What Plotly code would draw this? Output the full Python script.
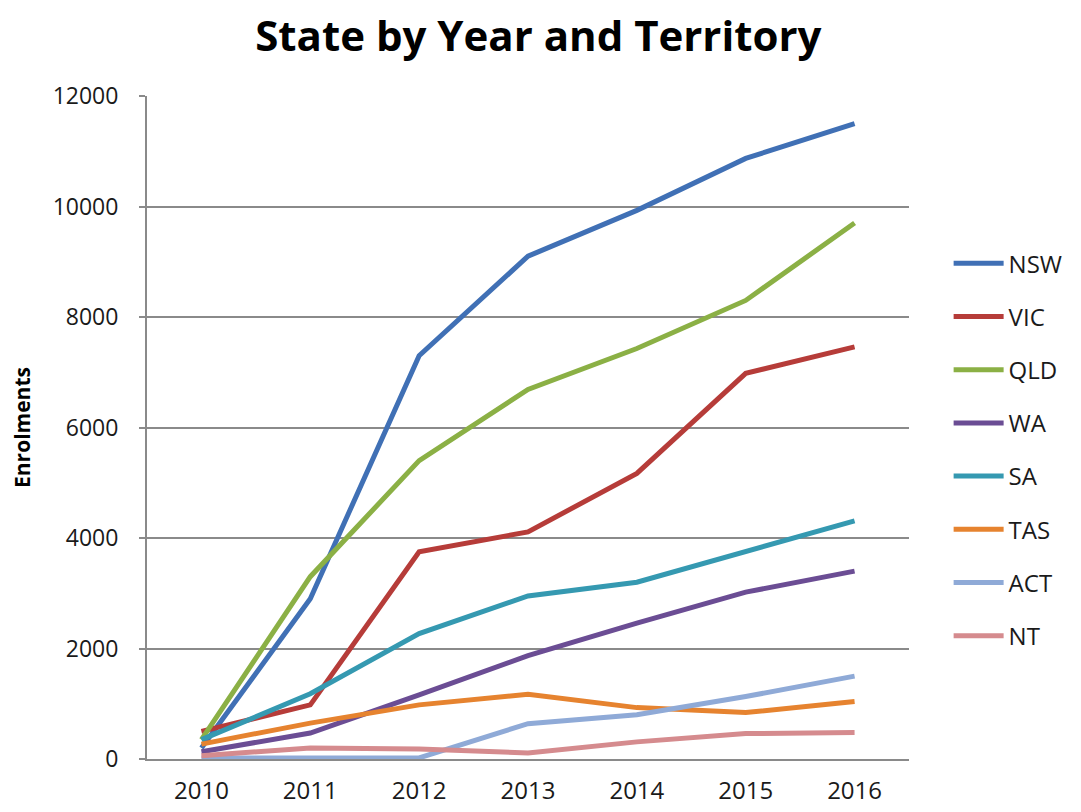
import plotly.graph_objects as go

# Enrolments by state/territory, 2010-2016
years = ["2010", "2011", "2012", "2013", "2014", "2015", "2016"]

nsw = [200, 2900, 7300, 9100, 9930, 10870, 11500]
vic = [500, 980, 3750, 4110, 5170, 6980, 7460]
qld = [350, 3300, 5400, 6690, 7430, 8300, 9700]
wa = [130, 470, 1160, 1870, 2460, 3020, 3400]
sa = [350, 1180, 2270, 2950, 3200, 3750, 4310]
tas = [270, 650, 980, 1170, 930, 840, 1040]
act = [20, 20, 20, 640, 800, 1130, 1500]
nt = [60, 200, 180, 110, 310, 460, 480]

y_ticks = [0, 2000, 4000, 6000, 8000, 10000, 12000]
y_tick_labels = ["0", "2000", "4000", "6000", "8000", "10000", "12000"]

series = [
    ("NSW", nsw, "#4070B5"),
    ("VIC", vic, "#B63C39"),
    ("QLD", qld, "#8BB045"),
    ("WA", wa, "#6B4D94"),
    ("SA", sa, "#3599B1"),
    ("TAS", tas, "#E6832F"),
    ("ACT", act, "#8FAAD7"),
    ("NT", nt, "#D58B8E"),
]

fig = go.Figure()
for name, vals, color in series:
    fig.add_trace(go.Scatter(
        x=years, y=vals, name=name, mode="lines",
        legendgroup=name,
        line=dict(color=color, width=5),
    ))

fig.update_layout(
    width=1081, height=812,
    paper_bgcolor="white", plot_bgcolor="white",
    margin=dict(l=147, r=172, t=96, b=53),
    font=dict(family="Open Sans", color="#1a1a1a"),
    title=dict(
        text="<b>State by Year and Territory</b>",
        x=0.498, xanchor="center", xref="container",
        y=1 - 36 / 812, yanchor="middle", yref="container",
        font=dict(family="Open Sans", size=42, color="black"),
    ),
    showlegend=True,
    legend=dict(
        x=1.052, xanchor="left", xref="paper",
        y=0.781, yanchor="top", yref="paper",
        tracegroupgap=19,
        itemwidth=50,
        font=dict(family="Open Sans", size=24, color="#1a1a1a"),
        bgcolor="rgba(0,0,0,0)",
    ),
)

fig.update_xaxes(
    type="category",
    range=[-0.5, 6.5],
    automargin=False,
    showgrid=False,
    showline=True, linecolor="#8a8a8a", linewidth=2,
    ticks="", tickfont=dict(family="Open Sans", size=24, color="#1a1a1a"),
    ticklabelstandoff=9,
    zeroline=False,
)

fig.update_yaxes(
    range=[0, 12000],
    automargin=False,
    tickvals=y_ticks, ticktext=y_tick_labels,
    showgrid=True, gridcolor="#8a8a8a", gridwidth=2,
    showline=True, linecolor="#8a8a8a", linewidth=2,
    ticks="outside", ticklen=6, tickcolor="#8a8a8a", tickwidth=2,
    tickfont=dict(family="Open Sans", size=23, color="#1a1a1a"),
    ticklabelstandoff=16,
    zeroline=False,
    title=dict(text="<b>Enrolments</b>", standoff=16,
               font=dict(family="Open Sans", size=21, color="black")),
)

fig.write_html("out.html")
